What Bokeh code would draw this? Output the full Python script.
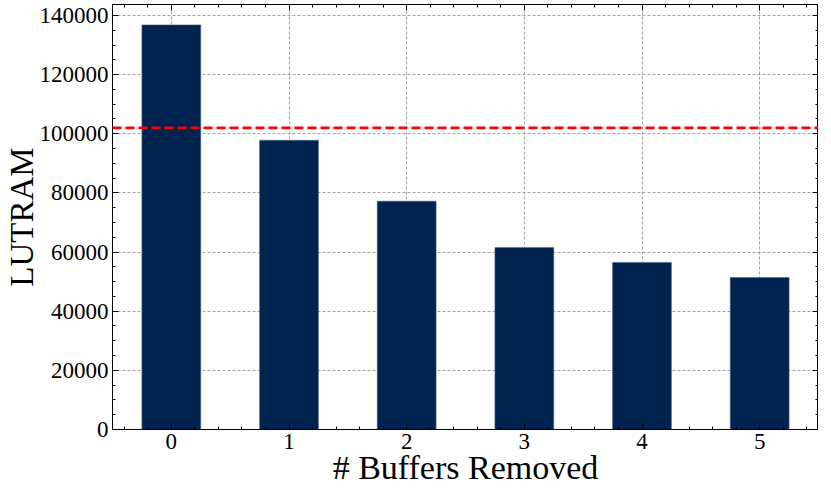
from bokeh.plotting import figure
from bokeh.models import (Range1d, SingleIntervalTicker, LinearAxis, Span, ColumnDataSource,
                          BasicTickFormatter, CustomJSTickFormatter)
from bokeh.embed import file_html
from bokeh.resources import INLINE

# ---- data ----
buffers_removed = [0, 1, 2, 3, 4, 5]
lutram = [136800, 97800, 77200, 61500, 56500, 51400]
lutram_available = 102000

FONT = "Liberation Serif"

p = figure(frame_width=706, frame_height=425, output_backend="svg", toolbar_location=None,
           x_range=Range1d(-0.5, 5.5), y_range=Range1d(0, 143700),
           min_border_left=106, min_border_right=0, min_border_top=4, min_border_bottom=50)

src = ColumnDataSource(dict(x=buffers_removed, top=lutram))
p.vbar(x="x", top="top", bottom=0, width=0.5, source=src,
       fill_color="#00224e", line_color="#4a6488", line_width=0.6)

p.add_layout(Span(location=lutram_available, dimension="width", line_color="#ff0000",
                  line_width=2.6, line_dash="9 4"))

xt = SingleIntervalTicker(interval=1, num_minor_ticks=5)
yt = SingleIntervalTicker(interval=20000, num_minor_ticks=4)

bottom_ax = p.below[0]
left_ax = p.left[0]
bottom_ax.ticker = xt
left_ax.ticker = yt
left_ax.formatter = BasicTickFormatter(use_scientific=False)
p.xgrid.ticker = xt
p.ygrid.ticker = yt

blank = CustomJSTickFormatter(code="return ''")
top_ax = LinearAxis(ticker=xt, formatter=blank, major_label_standoff=0,
                    major_label_text_font_size="1px")
right_ax = LinearAxis(ticker=yt, formatter=blank, major_label_standoff=0,
                      major_label_text_font_size="1px")
p.add_layout(top_ax, "above")
p.add_layout(right_ax, "right")

for ax in (bottom_ax, left_ax, top_ax, right_ax):
    ax.major_tick_in = 6
    ax.major_tick_out = 0
    ax.minor_tick_in = 3
    ax.minor_tick_out = 0
    ax.axis_line_color = "black"
    ax.axis_line_width = 1
    ax.major_tick_line_color = "black"
    ax.minor_tick_line_color = "black"
    ax.major_label_text_font = FONT
    ax.major_label_text_color = "black"
    ax.axis_label_text_font = FONT
    ax.axis_label_text_font_style = "normal"
    ax.axis_label_text_color = "black"

bottom_ax.major_label_text_font_size = "23px"
left_ax.major_label_text_font_size = "23px"
bottom_ax.major_label_standoff = 4
left_ax.major_label_standoff = 4
bottom_ax.axis_label = "# Buffers Removed"
left_ax.axis_label = "LUTRAM"
bottom_ax.axis_label_text_font_size = "34px"
left_ax.axis_label_text_font_size = "33px"
bottom_ax.axis_label_standoff = -3
left_ax.axis_label_standoff = -3

p.grid.grid_line_color = "#8a8a8a"
p.grid.grid_line_dash = "3 2"
p.grid.grid_line_width = 0.8

p.outline_line_color = "black"
p.background_fill_color = "white"
p.border_fill_color = "white"

open("out.html", "w").write(file_html(p, INLINE))
